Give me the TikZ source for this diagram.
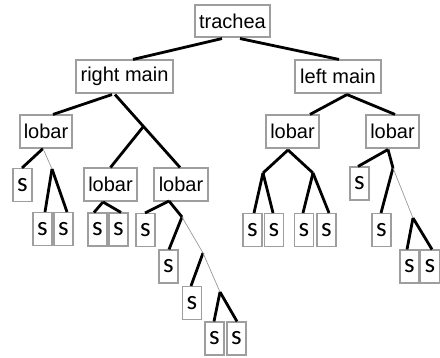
\documentclass[tikz,border=0pt]{standalone}
\usepackage{fontspec}
\setmainfont{Liberation Sans}
\newfontfamily\sfont{Carlito}
\begin{document}
\begin{tikzpicture}[x=1pt,y=-1pt,
  box/.style={draw=black!38,line width=1.1pt,fill=white,inner sep=0pt,
    minimum height=33pt,font=\fontsize{20}{20}\selectfont},
  sbox/.style={draw=black!38,line width=1.1pt,fill=white,inner sep=0pt,
    minimum width=19pt,minimum height=33pt,font=\sfont\fontsize{27}{27}\selectfont},
  thick/.style={line width=2.8pt,black},
  thin/.style={line width=0.7pt,black!40}]
\useasboundingbox (0,0) rectangle (440,358);
% main nodes
\node[box,minimum width=75pt,minimum height=32pt] (trachea) at (232.5,21) {trachea};
\node[box,minimum width=97pt] (rmain) at (124.5,76.5) {right main};
\node[box,minimum width=86pt] (lmain) at (338,76.5) {left main};
\node[box,minimum width=52pt] (L1) at (46,131.5) {lobar};
\node[box,minimum width=53pt] (L2) at (110.5,184.5) {lobar};
\node[box,minimum width=54pt] (L3) at (181,184.5) {lobar};
\node[box,minimum width=53pt] (L4) at (292.5,131.5) {lobar};
\node[box,minimum width=53pt] (L5) at (392.5,131.5) {lobar};
% s nodes
\node[sbox] (s1) at (22.5,185) {s};
\node[sbox] (s2) at (42.5,229) {s};
\node[sbox] (s3) at (63.5,229) {s};
\node[sbox] (s4) at (97.5,229.5) {s};
\node[sbox] (s5) at (118.5,229.5) {s};
\node[sbox] (s6) at (145.5,230) {s};
\node[sbox] (s7) at (168.5,266.5) {s};
\node[sbox] (s8) at (192,303) {s};
\node[sbox] (s9) at (214.5,338.5) {s};
\node[sbox] (s10) at (236.5,338.5) {s};
\node[sbox] (s11) at (252.5,230) {s};
\node[sbox] (s12) at (274,230) {s};
\node[sbox] (s13) at (304,230) {s};
\node[sbox] (s14) at (326.5,230) {s};
\node[sbox] (s15) at (359.5,183.5) {s};
\node[sbox] (s16) at (381.5,230) {s};
\node[sbox] (s17) at (409.5,266.5) {s};
\node[sbox] (s18) at (430,266.5) {s};
% junctions
\coordinate (J1) at (143,127);
\coordinate (J2) at (52,169);
\coordinate (A2) at (103,202);
\coordinate (A3) at (169,201);
\coordinate (J3) at (182,217);
\coordinate (J4) at (203,253);
\coordinate (J5) at (220,292);
\coordinate (A4) at (288,150);
\coordinate (J6) at (263,173);
\coordinate (J7) at (313,173);
\coordinate (A5) at (388,149.5);
\coordinate (J8) at (393,168);
\coordinate (J9) at (413,218);
% connectors
\draw[thick] ([xshift=-10.5pt,yshift=-1pt]trachea.south) -- ([xshift=8.5pt]rmain.north);
\draw[thick] ([xshift=7.5pt,yshift=-1pt]trachea.south) -- ([xshift=1pt]lmain.north);
\draw[thick] ([xshift=-12.5pt,yshift=-1pt]rmain.south) -- ([xshift=7pt]L1.north);
\draw[thick] ([xshift=-9.5pt,yshift=-1pt]rmain.south) -- ([xshift=-1pt]L3.north);
\draw[thick] (J1) -- (L2.north);
\draw[thick] ([xshift=9pt,yshift=-1pt]lmain.south) -- ([xshift=17.5pt]L4.north);
\draw[thick] ([xshift=9pt,yshift=-1pt]lmain.south) -- ([xshift=2.5pt]L5.north);
% L1
\draw[thick] ([xshift=-3pt]L1.south) -- ([xshift=-0.5pt]s1.north);
\draw[thin] ([xshift=-3pt]L1.south) -- (J2);
\draw[thick] (J2) -- ([xshift=2.5pt]s2.north);
\draw[thick] (J2) -- ([xshift=3.5pt]s3.north);
% L2
\draw[thick] (A2) -- ([xshift=-3.5pt]s4.north);
\draw[thick] (A2) -- ([xshift=2.5pt]s5.north);
% L3
\draw[thick] (A3) -- ([xshift=-0.5pt]s6.north);
\draw[thick] (A3) -- (J3);
\draw[thick] (J3) -- ([xshift=0.5pt]s7.north);
\draw[thin] (J3) -- (J4);
\draw[thick] (J4) -- ([xshift=-1pt]s8.north);
\draw[thin] (J4) -- (J5);
\draw[thick] (J5) -- ([xshift=-0.5pt]s9.north);
\draw[thick] (J5) -- ([xshift=0.5pt]s10.north);
% L4
\draw[thick] (A4) -- (J6);
\draw[thick] (A4) -- (J7);
\draw[thick] (J6) -- ([xshift=1.5pt]s11.north);
\draw[thick] (J6) -- ([xshift=-1pt]s12.north);
\draw[thick] (J7) -- ([xshift=-1pt]s13.north);
\draw[thick] (J7) -- ([xshift=2.5pt]s14.north);
% L5
\draw[thick] (A5) -- ([xshift=-1.5pt]s15.north);
\draw[thick] (A5) -- (J8);
\draw[thick] (J8) -- ([xshift=-0.5pt]s16.north);
\draw[thin] (J8) -- (J9);
\draw[thick] (J9) -- ([xshift=-2.5pt]s17.north);
\draw[thick] (J9) -- ([xshift=2pt]s18.north);
\end{tikzpicture}
\end{document}
